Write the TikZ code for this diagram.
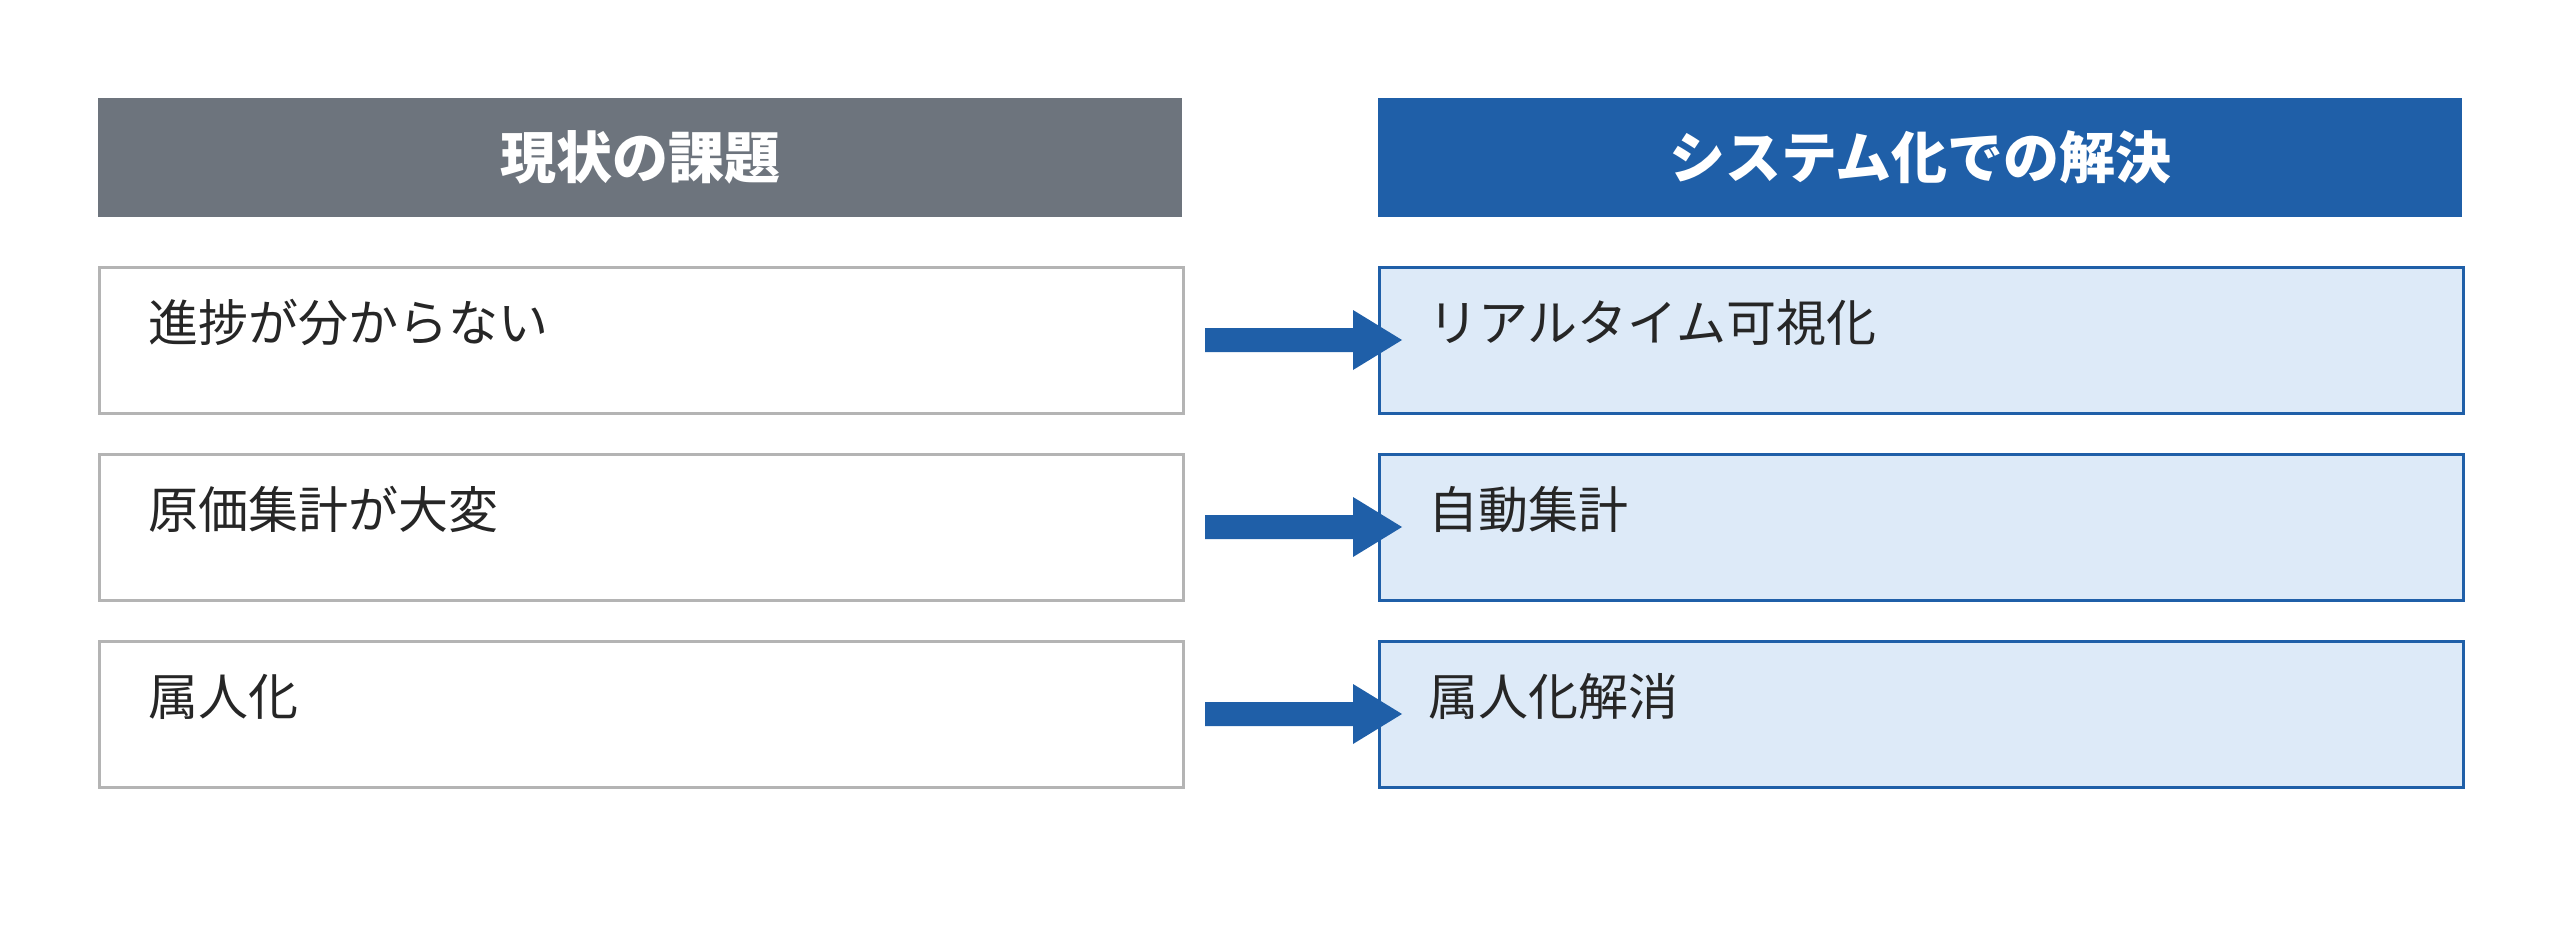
\documentclass[tikz,border=0pt]{standalone}
\usepackage{fontspec}
\setmainfont{Noto Sans CJK JP}
\definecolor{hdgray}{HTML}{6D747D}
\definecolor{hdblue}{HTML}{1F5FA8}
\definecolor{lblue}{HTML}{DDEAF8}
\definecolor{bgray}{HTML}{B4B4B4}
\begin{document}
\begin{tikzpicture}[x=1pt,y=-1pt,
  hd/.style={draw=none,minimum width=1084pt,minimum height=119pt,anchor=north west,inner sep=0,text=white,font=\fontsize{56}{60}\selectfont\bfseries},
  lbox/.style={draw=bgray,line width=3pt,fill=white,minimum width=1084pt,minimum height=146pt,anchor=north west,inner sep=0},
  rbox/.style={lbox,draw=hdblue,fill=lblue},
  txt/.style={anchor=base west,inner sep=0,text=black!85,font=\fontsize{50}{54}\selectfont},
  arr/.style={fill=hdblue,draw=none}]
\useasboundingbox (0,0) rectangle (2560,926);
\node[hd,fill=hdgray] (hl) at (98,98) {現状の課題};
\node[hd,fill=hdblue] (hr) at (1378,98) {システム化での解決};
\foreach \i/\y/\a/\b in {1/266/進捗が分からない/リアルタイム可視化,2/453/原価集計が大変/自動集計,3/640/属人化/属人化解消}{
  \node[lbox] (l\i) at (98,\y) {};
  \node[rbox] (r\i) at (1378,\y) {};
  \node[txt] (lt\i) at (148,\y+75) {\a};
  \node[txt] (rt\i) at (1428,\y+75) {\b};
  \fill[arr] (1205,\y+62) -- (1353,\y+62) -- (1353,\y+44) -- (1402,\y+74) -- (1353,\y+104) -- (1353,\y+86) -- (1205,\y+86) -- cycle;
}
\end{tikzpicture}
\end{document}
